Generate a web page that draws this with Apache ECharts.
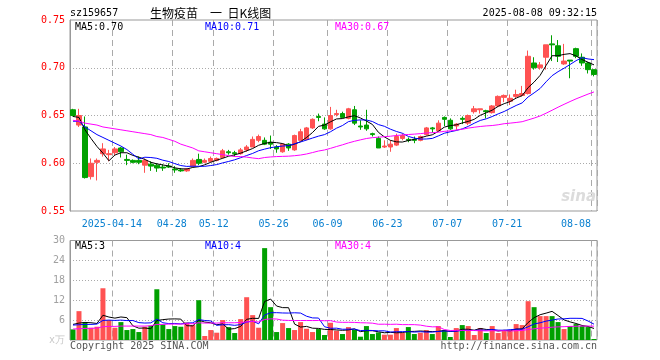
<!DOCTYPE html>
<html><head><meta charset="utf-8">
<script src="https://cdn.jsdelivr.net/npm/echarts@6/dist/echarts.min.js"></script>
<style>html,body{margin:0;padding:0;background:#fff}#c{width:660px;height:360px}</style>
</head><body><div id="c"></div>
<script>
const dates = ['2025-04-02','2025-04-03','2025-04-07','2025-04-08','2025-04-09','2025-04-10','2025-04-11','2025-04-14','2025-04-15','2025-04-16',
'2025-04-17','2025-04-18','2025-04-21','2025-04-22','2025-04-23','2025-04-24','2025-04-25','2025-04-28','2025-04-29','2025-04-30',
'2025-05-06','2025-05-07','2025-05-08','2025-05-09','2025-05-12','2025-05-13','2025-05-14','2025-05-15','2025-05-16','2025-05-19',
'2025-05-20','2025-05-21','2025-05-22','2025-05-23','2025-05-26','2025-05-27','2025-05-28','2025-05-29','2025-05-30','2025-06-03',
'2025-06-04','2025-06-05','2025-06-06','2025-06-09','2025-06-10','2025-06-11','2025-06-12','2025-06-13','2025-06-16','2025-06-17',
'2025-06-18','2025-06-19','2025-06-20','2025-06-23','2025-06-24','2025-06-25','2025-06-26','2025-06-27','2025-06-30','2025-07-01',
'2025-07-02','2025-07-03','2025-07-04','2025-07-07','2025-07-08','2025-07-09','2025-07-10','2025-07-11','2025-07-14','2025-07-15',
'2025-07-16','2025-07-17','2025-07-18','2025-07-21','2025-07-22','2025-07-23','2025-07-24','2025-07-25','2025-07-28','2025-07-29',
'2025-07-30','2025-07-31','2025-08-01','2025-08-04','2025-08-05','2025-08-06','2025-08-07','2025-08-08'];

const open = [0.656,0.640,0.638,0.586,0.601,0.610,0.609,0.611,0.616,0.604,
0.603,0.603,0.598,0.599,0.598,0.596,0.597,0.594,0.593,0.592,
0.597,0.604,0.601,0.602,0.603,0.606,0.612,0.611,0.610,0.614,
0.617,0.624,0.624,0.622,0.617,0.612,0.620,0.614,0.624,0.625,
0.637,0.649,0.641,0.636,0.651,0.652,0.647,0.656,0.639,0.640,
0.631,0.626,0.617,0.617,0.619,0.626,0.625,0.625,0.624,0.630,
0.637,0.634,0.648,0.645,0.639,0.647,0.642,0.654,0.656,0.655,
0.653,0.660,0.669,0.665,0.670,0.671,0.673,0.705,0.700,0.711,
0.725,0.723,0.704,0.708,0.720,0.711,0.705,0.698];
const close = [0.650,0.650,0.585,0.600,0.603,0.615,0.610,0.615,0.612,0.603,
0.601,0.601,0.603,0.597,0.595,0.595,0.596,0.593,0.592,0.594,
0.603,0.600,0.603,0.605,0.605,0.613,0.611,0.610,0.614,0.617,
0.625,0.628,0.620,0.620,0.615,0.620,0.616,0.629,0.633,0.637,
0.646,0.648,0.636,0.650,0.652,0.648,0.657,0.642,0.638,0.636,
0.630,0.616,0.618,0.620,0.628,0.629,0.624,0.624,0.628,0.637,
0.636,0.642,0.646,0.636,0.641,0.646,0.650,0.657,0.657,0.654,
0.660,0.670,0.671,0.668,0.672,0.673,0.712,0.700,0.703,0.724,
0.724,0.712,0.707,0.707,0.712,0.705,0.698,0.693];
const low = [0.649,0.638,0.584,0.583,0.582,0.607,0.602,0.608,0.606,0.598,
0.600,0.599,0.590,0.592,0.591,0.592,0.595,0.590,0.591,0.591,
0.596,0.598,0.600,0.601,0.602,0.605,0.609,0.607,0.609,0.612,
0.617,0.622,0.619,0.615,0.611,0.611,0.613,0.613,0.624,0.624,
0.636,0.644,0.635,0.635,0.649,0.647,0.646,0.640,0.635,0.634,
0.628,0.616,0.616,0.612,0.618,0.624,0.622,0.621,0.623,0.629,
0.632,0.633,0.639,0.635,0.635,0.641,0.640,0.652,0.652,0.647,
0.652,0.659,0.664,0.661,0.668,0.670,0.672,0.698,0.698,0.698,
0.707,0.706,0.703,0.689,0.710,0.702,0.694,0.691];
const high = [0.657,0.657,0.649,0.605,0.605,0.621,0.614,0.617,0.617,0.609,
0.604,0.607,0.605,0.602,0.600,0.599,0.600,0.597,0.595,0.595,
0.605,0.610,0.605,0.607,0.606,0.615,0.614,0.613,0.616,0.619,
0.628,0.630,0.627,0.629,0.619,0.621,0.621,0.630,0.636,0.638,
0.647,0.652,0.648,0.659,0.656,0.654,0.658,0.660,0.645,0.656,
0.632,0.628,0.624,0.624,0.631,0.631,0.627,0.628,0.629,0.638,
0.638,0.645,0.649,0.647,0.642,0.649,0.651,0.660,0.657,0.656,
0.661,0.671,0.672,0.672,0.677,0.681,0.718,0.711,0.706,0.724,
0.734,0.729,0.725,0.708,0.721,0.715,0.706,0.698];
const volume = [3.2,8.7,5.3,3.7,4.0,15.6,6.0,3.7,5.4,3.0,
3.3,2.4,4.0,4.3,15.3,4.7,3.3,4.2,4.0,5.3,
4.5,12.0,1.2,3.0,2.2,6.0,3.9,2.1,6.3,12.9,
7.5,3.7,27.7,9.9,2.4,5.1,3.6,3.0,5.4,3.4,
2.4,3.3,1.5,5.2,2.8,1.8,3.9,3.1,1.0,4.2,
1.8,2.3,1.6,1.6,3.6,2.1,3.9,1.8,2.2,3.0,
1.8,4.2,3.0,0.9,3.6,4.5,4.2,1.5,3.6,2.1,
4.2,2.1,2.7,2.7,4.8,4.5,11.7,9.9,7.2,7.2,
7.2,5.4,3.3,4.2,4.8,4.2,3.9,0.3];

const priceMA5Head = [0.649,0.648,0.635,0.626];
const priceMA10Head = [0.644,0.644,0.638,0.634,0.630,0.627,0.624,0.621,0.618];
const priceMA30Head = [0.645,0.644,0.642,0.641,0.640,0.638,0.637,0.636,0.635,0.634,
0.633,0.632,0.631,0.630,0.628,0.627,0.625,0.623,0.620,0.618,
0.616,0.613,0.612,0.611,0.610,0.609,0.608,0.607,0.607];
const volMA5Head = [4.7,5.1,5.3,5.2];
const volMA10Head = [4.5,4.6,4.7,4.7,4.8,5.9,6.0,5.9,6.0];
const volMA30Head = [3.3,3.4,3.5,3.5,3.6,4.0,4.1,4.1,4.2,4.2,
4.2,4.2,4.2,4.3,4.7,4.7,4.8,4.8,4.8,4.9,
4.9,5.2,5.1,5.1,5.1,5.2,5.2,5.2,5.3];

const labelIdx = [7,17,24,34,43,53,63,73,87];
const priceMALabels = ['MA5:0.70','MA10:0.71','MA30:0.67'];
const volMALabels = ['MA5:3','MA10:4','MA30:4'];
const maColors = ['#000000','#0000ff','#ff00ff'];
const maLeft = [75,205,335];

function movingAvg(vals, n, head){
  return vals.map((v,i)=>{
    if(i < head.length) return head[i];
    let s=0; for(let k=i-n+1;k<=i;k++) s+=vals[k];
    return +(s/n).toFixed(4);
  });
}
const MONO = 'DejaVu Sans Mono';
const UP = '#ff5252', DOWN = '#00a000';
const splitX = {show:true, interval:(i)=>labelIdx.includes(i), lineStyle:{color:'#aaaaaa', type:[6,4], width:1}};

const titles = [
  {text:'sz159657', left:70, top:7},
  {text:'2025-08-08 09:32:15', right:63, top:7},
  {text:'Copyright 2025 SINA.COM', left:70, top:340, color:'#555'},
  {text:'http://finance.sina.com.cn', right:63, top:340, color:'#555'}
].map(t=>({text:t.text, left:t.left, right:t.right, top:t.top, padding:0,
  textStyle:{fontFamily:MONO, fontSize:10, lineHeight:12, fontWeight:'normal', color:t.color||'#000'}}));
titles.push({text:'生物疫苗　一  日K线图', left:150, top:6, padding:0,
  textStyle:{fontFamily:'Noto Sans CJK SC', fontSize:12, lineHeight:14, fontWeight:'normal', color:'#000'}});
priceMALabels.forEach((t,k)=>titles.push({text:t, left:maLeft[k], top:21, padding:0,
  textStyle:{fontFamily:MONO, fontSize:10, lineHeight:12, fontWeight:'normal', color:maColors[k]}}));
volMALabels.forEach((t,k)=>titles.push({text:t, left:maLeft[k], top:240, padding:0,
  textStyle:{fontFamily:MONO, fontSize:10, lineHeight:12, fontWeight:'normal', color:maColors[k]}}));
titles.push({text:'sina', right:64, top:190, padding:0,
  textStyle:{fontFamily:'DejaVu Sans', fontSize:15, fontStyle:'italic', fontWeight:'bold', color:'#dcdcdc'}});

const priceMA = [movingAvg(close,5,priceMA5Head), movingAvg(close,10,priceMA10Head), movingAvg(close,30,priceMA30Head)];
const volMA = [movingAvg(volume,5,volMA5Head), movingAvg(volume,10,volMA10Head), movingAvg(volume,30,volMA30Head)];

const series = [{
  type:'candlestick', xAxisIndex:0, yAxisIndex:0, barWidth:5,
  data: dates.map((d,i)=>[open[i],close[i],low[i],high[i]]),
  itemStyle:{color:UP, color0:DOWN, borderColor:UP, borderColor0:DOWN, borderWidth:1}
}];
priceMA.forEach((arr,k)=>series.push({type:'line', xAxisIndex:0, yAxisIndex:0, data:arr, symbol:'none',
  lineStyle:{color:maColors[k], width:1}, z:3}));
series.push({type:'bar', xAxisIndex:1, yAxisIndex:1, barWidth:5, data:volume,
  itemStyle:{color:(p)=> close[p.dataIndex] >= open[p.dataIndex] ? UP : DOWN}});
volMA.forEach((arr,k)=>series.push({type:'line', xAxisIndex:1, yAxisIndex:1, data:arr, symbol:'none',
  lineStyle:{color:maColors[k], width:1}, z:3}));

const chart = echarts.init(document.getElementById('c'), null, {renderer:'canvas'});
chart.setOption({
  animation:false,
  backgroundColor:'#fff',
  title: titles,
  grid:[
    {left:70, top:20, width:527, height:191, show:true, borderColor:'#999', borderWidth:1, backgroundColor:'transparent'},
    {left:70, top:240.5, width:527, height:99.5, show:true, borderColor:'#999', borderWidth:1, backgroundColor:'transparent'}
  ],
  xAxis:[
    {type:'category', gridIndex:0, data:dates, boundaryGap:true,
     axisLine:{show:false}, axisTick:{show:false}, splitLine:splitX,
     axisLabel:{interval:(i)=>labelIdx.includes(i), margin:8, fontFamily:MONO, fontSize:10, color:'#0a80d0',
       formatter:(v,i)=> i===labelIdx[0] ? '{a|'+v+'}' : (i===labelIdx[labelIdx.length-1] ? '{b|'+v.slice(5)+'}' : '{a|'+v.slice(5)+'}'),
       rich:{a:{padding:[0,6,0,0], fontFamily:MONO, fontSize:10, color:'#0a80d0'},
             b:{padding:[0,36,0,0], fontFamily:MONO, fontSize:10, color:'#0a80d0'}}}},
    {type:'category', gridIndex:1, data:dates, boundaryGap:true,
     axisLine:{show:false}, axisTick:{show:false}, axisLabel:{show:false}, splitLine:splitX}
  ],
  yAxis:[
    {type:'value', gridIndex:0, min:0.55, max:0.75, interval:0.05, scale:true,
     axisLine:{show:true, lineStyle:{color:'#999'}}, axisTick:{show:false},
     axisLabel:{margin:5, fontFamily:MONO, fontSize:10, color:'#ff0000', formatter:(v)=>v.toFixed(2)},
     splitLine:{show:true, showMinLine:false, showMaxLine:false, lineStyle:{color:'#aaaaaa', type:[1,2]}}},
    {type:'value', gridIndex:1, min:0, max:30, interval:6,
     axisLine:{show:true, lineStyle:{color:'#999'}}, axisTick:{show:false},
     axisLabel:{margin:5, fontFamily:MONO, fontSize:10, color:'#a0a0a0',
       formatter:(v)=> v===0 ? '{u|x万}' : String(v),
       rich:{u:{color:'#c8c8c8', fontSize:10, fontFamily:MONO}}},
     splitLine:{show:true, showMinLine:false, showMaxLine:false, lineStyle:{color:'#aaaaaa', type:[1,2]}}}
  ],
  series: series
});
</script></body></html>
